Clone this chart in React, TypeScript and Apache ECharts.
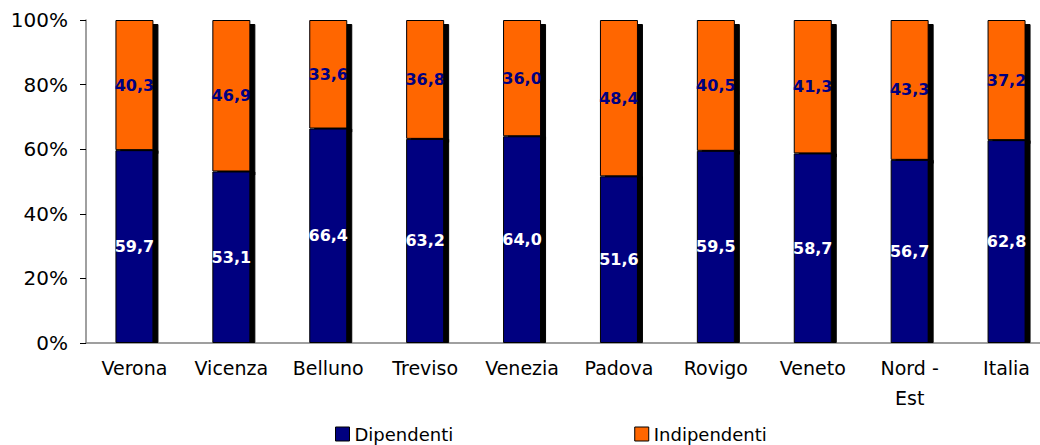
import React, { useEffect, useRef } from "react";
import * as echarts from "echarts";

const categories = ["Verona", "Vicenza", "Belluno", "Treviso", "Venezia", "Padova", "Rovigo", "Veneto", "Nord -\nEst", "Italia"];
const dipendenti = [59.7, 53.1, 66.4, 63.2, 64.0, 51.6, 59.5, 58.7, 56.7, 62.8];
const indipendenti = [40.3, 46.9, 33.6, 36.8, 36.0, 48.4, 40.5, 41.3, 43.3, 37.2];
const yTicks = [0, 20, 40, 60, 80, 100];

const NAVY = "#000080";
const ORANGE = "#FF6600";
const FONT = "DejaVu Sans";

const fmt = (v: number) => v.toFixed(1).replace(".", ",");

export default function App() {
  const ref = useRef<HTMLDivElement>(null);

  useEffect(() => {
    if (!ref.current) return;
    const chart = echarts.init(ref.current, null, { renderer: "svg" });
    const barStyle = (color: string, offY: number) => ({
      color,
      borderColor: "#000",
      borderWidth: 1,
      shadowColor: "#000",
      shadowBlur: 0,
      shadowOffsetX: 5,
      shadowOffsetY: offY,
    });
    chart.setOption({
      animation: false,
      grid: { left: 86, top: 20, height: 323, width: 969, outerBoundsMode: "none", containLabel: false },
      legend: {
        left: 330,
        top: 420,
        itemWidth: 14,
        itemHeight: 14,
        itemGap: 181,
        icon: "rect",
        textStyle: { fontFamily: FONT, fontSize: 18, color: "#000" },
        itemStyle: { borderColor: "#000", borderWidth: 1, shadowColor: "transparent", shadowOffsetX: 0, shadowOffsetY: 0 },
        data: ["Dipendenti", "Indipendenti"],
      },
      xAxis: {
        type: "category",
        data: categories,
        axisLine: { lineStyle: { color: "#808080", width: 1.5 } },
        axisTick: { show: false },
        axisLabel: { color: "#000", fontFamily: FONT, fontSize: 19, lineHeight: 30, margin: 10, interval: 0 },
      },
      yAxis: {
        type: "value",
        min: yTicks[0],
        max: yTicks[yTicks.length - 1],
        interval: 20,
        splitLine: { show: false },
        axisLine: { show: true, lineStyle: { color: "#808080", width: 1.5 } },
        axisTick: { show: true, length: 6, lineStyle: { color: "#000" } },
        axisLabel: { color: "#000", fontFamily: FONT, fontSize: 20, margin: 18, formatter: (v: number) => v + "%" },
      },
      series: [
        {
          name: "Dipendenti",
          type: "bar",
          stack: "tot",
          z: 3,
          barWidth: 38,
          data: dipendenti,
          itemStyle: barStyle(NAVY, 0),
          label: {
            show: true,
            position: "inside",
            color: "#fff",
            fontFamily: FONT,
            fontWeight: "bold",
            fontSize: 16,
            formatter: (p: any) => fmt(p.value),
          },
        },
        {
          name: "Indipendenti",
          type: "bar",
          stack: "tot",
          z: 2,
          barWidth: 38,
          data: indipendenti,
          itemStyle: barStyle(ORANGE, 4),
          label: {
            show: true,
            position: "inside",
            color: NAVY,
            fontFamily: FONT,
            fontWeight: "bold",
            fontSize: 16,
            formatter: (p: any) => fmt(p.value),
          },
        },
      ],
    });
    return () => chart.dispose();
  }, []);

  return <div ref={ref} style={{ position: "absolute", left: 0, top: 0, width: 1040, height: 445 }} />;
}
